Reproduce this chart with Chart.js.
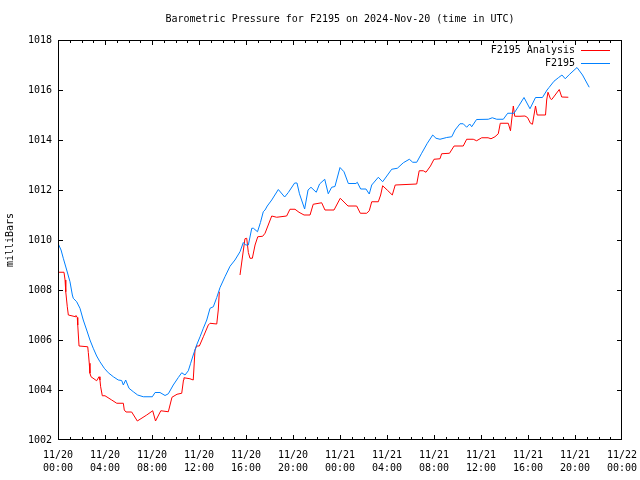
<!DOCTYPE html>
<html>
<head>
<meta charset="utf-8">
<script src="https://cdn.jsdelivr.net/npm/chart.js@4.4.1/dist/chart.umd.min.js"></script>
<style>
  body { margin: 0; background: #fff; }
  canvas { display: block; }
</style>
</head>
<body>
<canvas id="pressureChart" width="640" height="480"></canvas>
<script>
// Hours since 2024-11-20 00:00 UTC and pressure (mb)
const modelHours = [0, 0.26, 0.45, 0.74, 1.02, 1.22, 1.30, 1.59, 1.87, 2.15, 2.44, 2.72, 3.00, 3.29, 3.57, 3.94,
  4.28, 4.71, 5.13, 5.42, 5.56, 5.76, 6.04, 6.41, 6.78, 7.26, 8.03, 8.26, 8.68, 9.11, 9.39, 9.81,
  10.24, 10.53, 10.81, 11.09, 11.29, 11.51, 11.80, 12.09, 12.37, 12.66, 12.94, 13.22, 13.51, 13.79,
  14.21, 14.64, 15.06, 15.49, 15.77, 15.97, 16.2, 16.49, 16.63, 16.98, 17.23, 17.47, 17.62, 17.81,
  18.19, 18.75, 19.29, 19.6, 20.14, 20.34, 20.55, 20.99, 21.28, 21.53, 21.98, 22.26, 22.7, 23.0,
  23.29, 23.57, 24.0, 24.34, 24.71, 25.36, 25.47, 25.76, 26.21, 26.49, 26.7, 27.26, 27.63, 28.4,
  28.88, 29.39, 29.9, 30.19, 30.53, 30.95, 31.43, 31.89, 32.17, 32.51, 33.08, 33.51, 33.79, 34.21,
  34.49, 34.78, 35.04, 35.21, 35.62, 36.62, 36.96, 37.34, 37.9, 38.27, 38.81, 39.17, 39.66, 40.17,
  40.64, 41.23, 41.62, 41.79, 42.21, 42.58, 42.89, 43.17, 43.52, 44.17, 44.64, 45.21];
const modelPressure = [1009.87, 1009.6, 1009.27, 1008.8, 1008.33, 1007.8, 1007.67, 1007.53, 1007.27, 1006.8,
  1006.4, 1006.0, 1005.67, 1005.36, 1005.13, 1004.87, 1004.69, 1004.53, 1004.4, 1004.38, 1004.2, 1004.4,
  1004.07, 1003.93, 1003.8, 1003.73, 1003.73, 1003.9, 1003.9, 1003.78, 1003.85, 1004.2, 1004.5, 1004.69,
  1004.6, 1004.77, 1005.07, 1005.4, 1005.8, 1006.13, 1006.47, 1006.8, 1007.27, 1007.33, 1007.7, 1008.1,
  1008.53, 1008.95, 1009.2, 1009.53, 1009.9, 1009.8, 1009.8, 1010.47, 1010.47, 1010.33, 1010.7, 1011.13,
  1011.2, 1011.36, 1011.6, 1012.02, 1011.72, 1011.9, 1012.28, 1012.28, 1011.85, 1011.24, 1012.0, 1012.11,
  1011.91, 1012.24, 1012.43, 1011.85, 1012.11, 1012.14, 1012.9, 1012.73, 1012.26, 1012.26, 1012.31,
  1012.04, 1012.04, 1011.84, 1012.2, 1012.51, 1012.33, 1012.83, 1012.87, 1013.09, 1013.23, 1013.11,
  1013.11, 1013.47, 1013.87, 1014.2, 1014.07, 1014.03, 1014.1, 1014.13, 1014.4, 1014.65, 1014.65,
  1014.51, 1014.64, 1014.53, 1014.82, 1014.83, 1014.89, 1014.83, 1014.83, 1015.07, 1015.07, 1015.33,
  1015.7, 1015.25, 1015.7, 1015.7, 1016.0, 1016.1, 1016.35, 1016.49, 1016.6, 1016.45, 1016.62, 1016.9,
  1016.6, 1016.11];

// analysis series, null = gap in the record
const analysisHours = [0, 0.51, 0.6, 0.66, 0.79, 0.88, 1.51, 1.53, 1.64, 1.68, 1.79, 2.53, 2.58, 2.66, 2.72,
  2.81, 3.29, 3.49, 3.57, 3.63, 3.77, 4.0, 4.57, 5.0, 5.56, 5.64, 5.79, 6.27, 6.75, 7.55, 8.06, 8.3, 8.75,
  9.39, 9.7, 10.13, 10.53, 10.68, 10.72, 11.23, 11.51, 11.66, 11.8, 12.03, 12.37, 12.79, 12.94, 13.51,
  13.64, 13.73, 14.6, 15.49, 15.91, 16.06, 16.2, 16.34, 16.54, 16.77, 17.0, 17.42, 17.62, 18.19, 18.61,
  19.46, 19.74, 20.17, 20.51, 20.94, 21.45, 21.72, 22.44, 22.72, 23.49, 24.02, 24.68, 25.42, 25.73,
  26.27, 26.49, 26.7, 27.26, 27.46, 27.63, 28.06, 28.45, 28.7, 30.53, 30.74, 31.09, 31.32, 31.7, 32.0,
  32.51, 32.65, 33.32, 33.71, 34.49, 34.78, 35.34, 35.63, 36.06, 36.6, 36.85, 37.19, 37.47, 37.64,
  38.32, 38.51, 38.61, 38.75, 38.87, 39.32, 39.74, 39.96, 40.21, 40.38, 40.64, 40.78, 41.49, 41.59,
  41.7, 41.91, 42.02, 42.66, 42.87, 43.43];
const analysisPressure = [1008.71, 1008.71, 1008.4, 1007.93, 1007.33, 1007.0, 1006.93, 1006.98, 1006.9,
  1006.6, 1005.76, 1005.73, 1005.5, 1005.07, 1004.67, 1004.53, 1004.37, 1004.53, 1004.4, 1004.13,
  1003.77, 1003.77, 1003.6, 1003.47, 1003.47, 1003.2, 1003.12, 1003.12, 1002.76, 1003.0, 1003.17,
  1002.76, 1003.17, 1003.13, 1003.71, 1003.83, 1003.87, 1004.4, 1004.49, 1004.45, 1004.4, 1005.6,
  1005.76, 1005.76, 1006.13, 1006.6, 1006.67, 1006.64, 1007.2, 1007.93, null, 1008.6, 1010.05, 1010.07,
  1009.5, 1009.27, 1009.27, 1009.8, 1010.13, 1010.15, 1010.27, 1010.96, 1010.91, 1010.96, 1011.23,
  1011.23, 1011.11, 1011.0, 1011.0, 1011.43, 1011.49, 1011.2, 1011.2, 1011.67, 1011.36, 1011.36,
  1011.07, 1011.07, 1011.17, 1011.53, 1011.53, 1011.8, 1012.17, 1011.98, 1011.8, 1012.2, 1012.24,
  1012.77, 1012.77, 1012.71, 1012.96, 1013.23, 1013.25, 1013.45, 1013.47, 1013.76, 1013.76, 1014.03,
  1014.03, 1013.97, 1014.09, 1014.09, 1014.05, 1014.13, 1014.25, 1014.67, 1014.67, 1014.37, 1014.8,
  1015.36, 1014.95, 1014.95, 1014.96, 1014.9, 1014.67, 1014.63, 1015.36, 1015.0, 1015.0, 1015.6,
  1015.91, 1015.65, 1015.62, 1016.02, 1015.72, 1015.71];

const xTickLabels = [['11/20', '00:00'], ['11/20', '04:00'], ['11/20', '08:00'], ['11/20', '12:00'],
  ['11/20', '16:00'], ['11/20', '20:00'], ['11/21', '00:00'], ['11/21', '04:00'], ['11/21', '08:00'],
  ['11/21', '12:00'], ['11/21', '16:00'], ['11/21', '20:00'], ['11/22', '00:00']];
const seriesNames = ['F2195 Analysis', 'F2195'];
const seriesColors = ['#ff0000', '#0080ff'];
const chartTitle = 'Barometric Pressure for F2195 on 2024-Nov-20 (time in UTC)';

const monoFont = '"DejaVu Sans Mono", "Liberation Mono", monospace';
Chart.defaults.color = '#000';
Chart.defaults.font.family = monoFont;
Chart.defaults.font.size = 10;

// gnuplot-like frame, inward ticks, title and legend
const framePlugin = {
    id: 'frame',
    afterDraw(chart) {
        const ctx = chart.ctx;
        const area = chart.chartArea;
        const xs = chart.scales.x;
        const ys = chart.scales.y;
        ctx.save();
        ctx.strokeStyle = '#000';
        ctx.lineWidth = 1;
        ctx.strokeRect(area.left + 0.5, area.top + 0.5, area.right - area.left - 1, area.bottom - area.top - 1);

        ctx.beginPath();
        for (let h = 0; h <= 48; h++) {
            const px = Math.min(Math.round(xs.getPixelForValue(h)), area.right - 1) + 0.5;
            const len = h % 4 === 0 ? 5 : 3;
            ctx.moveTo(px, area.bottom);
            ctx.lineTo(px, area.bottom - len);
            ctx.moveTo(px, area.top);
            ctx.lineTo(px, area.top + len);
        }
        ys.ticks.forEach(t => {
            const py = Math.min(Math.round(ys.getPixelForValue(t.value)), area.bottom - 1) + 0.5;
            ctx.moveTo(area.left, py);
            ctx.lineTo(area.left + 5, py);
            ctx.moveTo(area.right, py);
            ctx.lineTo(area.right - 5, py);
        });
        ctx.stroke();

        ctx.fillStyle = '#000';
        ctx.font = '10px ' + monoFont;
        ctx.textAlign = 'center';
        ctx.textBaseline = 'middle';
        ctx.fillText(chartTitle, (area.left + area.right) / 2, 19);

        // legend
        ctx.textAlign = 'right';
        seriesNames.forEach((name, i) => {
            const y = 50 + i * 13;
            ctx.fillStyle = '#000';
            ctx.fillText(name, 575, y);
            ctx.strokeStyle = seriesColors[i];
            ctx.beginPath();
            ctx.moveTo(581, y + 0.5);
            ctx.lineTo(610, y + 0.5);
            ctx.stroke();
        });
        ctx.restore();
    }
};

const ctx = document.getElementById('pressureChart').getContext('2d');
new Chart(ctx, {
    type: 'line',
    data: {
        datasets: [{
            label: seriesNames[1],
            data: modelHours.map((h, i) => ({ x: h, y: modelPressure[i] })),
            borderColor: seriesColors[1],
            borderWidth: 1,
            pointRadius: 0,
            tension: 0,
            order: 0
        }, {
            label: seriesNames[0],
            data: analysisHours.map((h, i) => ({ x: h, y: analysisPressure[i] })),
            borderColor: seriesColors[0],
            borderWidth: 1,
            pointRadius: 0,
            tension: 0,
            spanGaps: false,
            order: 1
        }]
    },
    options: {
        responsive: false,
        animation: false,
        layout: { padding: { top: 40, right: 18, bottom: 0, left: 0 } },
        plugins: {
            legend: { display: false },
            tooltip: { enabled: false }
        },
        scales: {
            x: {
                type: 'linear',
                min: 0,
                max: 48,
                grid: { display: false, drawTicks: false },
                border: { display: false },
                ticks: {
                    stepSize: 4,
                    autoSkip: false,
                    maxRotation: 0,
                    padding: 9,
                    font: { size: 10, lineHeight: 1.3 },
                    callback: (value, index) => xTickLabels[index]
                },
                afterFit: scale => {
                    scale.height = 40;
                    scale.paddingLeft = 0;
                    scale.paddingRight = 0;
                }
            },
            y: {
                min: 1002,
                max: 1018,
                grid: { display: false, drawTicks: false },
                border: { display: false },
                ticks: { stepSize: 2, padding: 6, callback: value => String(value) },
                title: { display: true, text: 'milliBars', padding: 4 },
                afterFit: scale => {
                    scale.width = 58;
                    scale.paddingTop = 0;
                    scale.paddingBottom = 0;
                }
            }
        }
    },
    plugins: [framePlugin]
});
</script>
</body>
</html>
